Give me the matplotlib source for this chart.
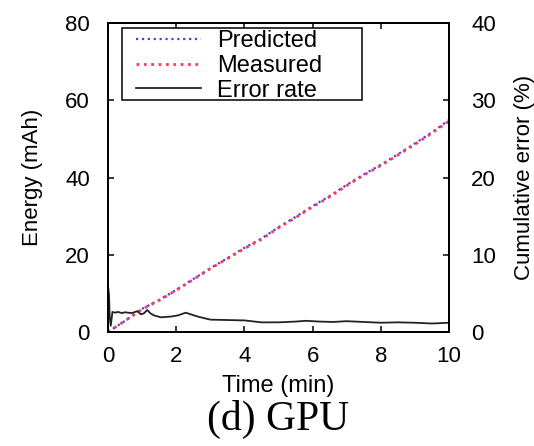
import matplotlib
matplotlib.use("Agg")
import matplotlib.pyplot as plt
from matplotlib.patches import Rectangle

# ---- data ----
time_min = [0, 0.5, 1, 1.5, 2, 2.5, 3, 3.5, 4, 4.5, 5, 5.5, 6, 6.5, 7, 7.5, 8, 8.5, 9, 9.5, 10]
measured = [0, 2.9, 5.9, 8.2, 10.8, 13.6, 16.4, 19.0, 21.6, 24.0, 27.0, 29.6, 32.4, 35.0, 37.9, 40.6, 43.1, 45.8, 48.6, 51.5, 54.6]
predicted = [0, 2.9, 6.0, 8.3, 10.9, 13.7, 16.5, 19.1, 21.8, 24.2, 27.1, 29.8, 32.6, 35.2, 38.1, 40.8, 43.3, 46.0, 48.8, 51.7, 54.9]

err_time = [0, 0.03, 0.05, 0.08, 0.13, 0.2, 0.3, 0.4, 0.5, 0.6, 0.7, 0.86, 0.96, 1.05, 1.15, 1.25, 1.35, 1.55,
            1.85, 2.05, 2.28, 2.63, 3.0, 3.5, 4.0, 4.5, 5.0, 5.5, 5.8, 6.2, 6.6, 7.0, 7.5, 8.0, 8.5, 9.0, 9.5, 10]
err_rate = [6.0, 4.8, 2.0, 0.8, 2.6, 2.5, 2.6, 2.45, 2.55, 2.5, 2.45, 2.7, 2.3, 2.4, 2.85, 2.4, 2.15, 1.9,
            2.0, 2.15, 2.5, 2.0, 1.6, 1.55, 1.5, 1.25, 1.25, 1.35, 1.45, 1.35, 1.3, 1.4, 1.3, 1.2, 1.25, 1.2, 1.1, 1.2]

xticks = [0, 2, 4, 6, 8, 10]
yticks_left = [0, 20, 40, 60, 80]
yticks_right = [0, 10, 20, 30, 40]

plt.rcParams['font.family'] = ['Liberation Sans', 'DejaVu Sans']
FS = 16

fig = plt.figure(figsize=(5.34, 4.46), dpi=100)
W, H = 534, 446
ax = fig.add_axes([108 / W, (H - 332) / H, (449 - 108) / W, (332 - 23) / H])
ax2 = ax.twinx()

lp, = ax.plot(time_min, predicted, color='#4040ff', linestyle=':', linewidth=1.6, label='Predicted')
lm, = ax.plot(time_min, measured, color='#ff3a55', linestyle=':', linewidth=2.0, label='Measured')
le, = ax2.plot(err_time, err_rate, color='#222222', linestyle='-', linewidth=1.3, label='Error rate')

ax.set_xlim(0, 10)
ax.set_ylim(0, 80)
ax2.set_ylim(0, 40)
ax.set_xticks(xticks)
ax.set_yticks(yticks_left)
ax2.set_yticks(yticks_right)

ax.tick_params(axis='both', direction='in', length=4, width=1.1, labelsize=FS, top=True)
ax.tick_params(axis='y', pad=13)
ax.tick_params(axis='x', pad=10)
ax2.tick_params(axis='y', direction='in', length=4, width=1.1, labelsize=FS, pad=16)
for a in (ax, ax2):
    for s in a.spines.values():
        s.set_linewidth(1.3)

ax.set_xlabel('Time (min)', fontsize=17)
ax.set_ylabel('Energy (mAh)', fontsize=FS)
ax2.set_ylabel('Cumulative error (%)', fontsize=FS)
ax.xaxis.set_label_coords(0.5, -0.14)
ax.yaxis.set_label_coords(-0.19, 0.5)
ax2.yaxis.set_label_coords(1.19, 0.5)

# legend frame drawn as a box, legend entries placed inside it
box = Rectangle((0.041, 0.751), 0.704, 0.233, transform=ax2.transAxes, facecolor='white',
                edgecolor='black', linewidth=1.1, zorder=4)
ax2.add_patch(box)
leg = ax2.legend(handles=[lp, lm, le], loc='upper left',
                 bbox_to_anchor=((136 - 108) / 341, (332 - 30) / 309),
                 fontsize=17, frameon=False,
                 handlelength=2.75, handletextpad=0.68, labelspacing=0.12, borderpad=0,
                 borderaxespad=0)
leg.set_zorder(5)

fig.text(278 / W, 1 - 419 / H, '(d) GPU', ha='center', va='center', fontsize=30,
         family=['Liberation Serif', 'DejaVu Serif'])

fig.savefig('out.png', dpi=100)
